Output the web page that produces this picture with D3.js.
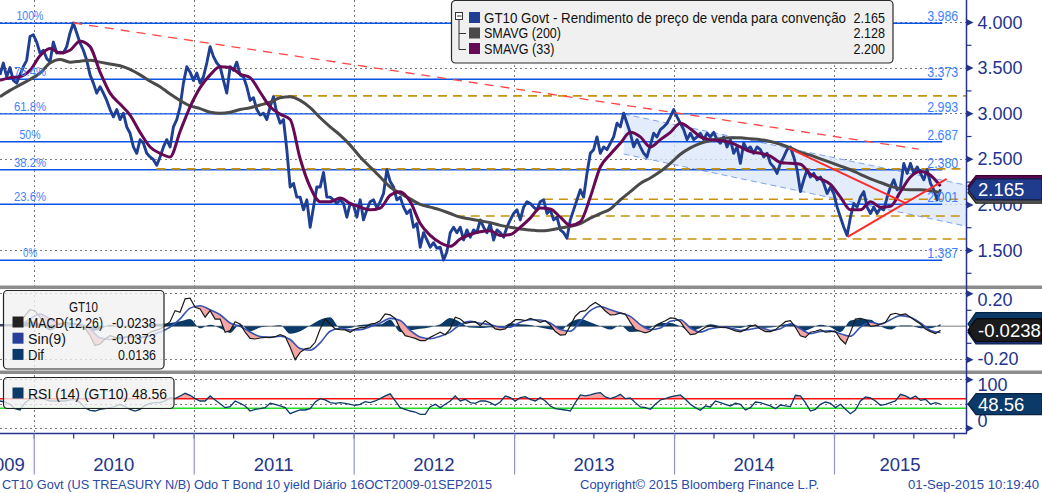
<!DOCTYPE html>
<html><head><meta charset="utf-8">
<script src="https://cdn.jsdelivr.net/npm/d3@7"></script>
<style>
body{margin:0;background:#fff}
svg{display:block}
text{font-family:"Liberation Sans",Arial,sans-serif}
</style></head>
<body><svg id="c" width="1042" height="493"></svg>
<script>
// ---------------- DATA ----------------
const startDate = "2009-10-16", endDate = "2015-09-01";
const price = [
3.42,3.55,3.40,3.50,3.36,3.33,3.42,3.51,3.58,3.84,
3.86,3.78,3.66,3.69,3.60,3.56,3.78,3.66,3.67,3.66,
3.73,3.88,3.99,3.88,3.77,3.69,3.58,3.42,3.33,3.22,
3.29,3.22,3.14,3.04,2.96,3.04,2.93,3.00,2.85,2.78,
2.63,2.56,2.71,2.67,2.56,2.52,2.49,2.43,2.52,2.63,
2.71,2.63,2.85,2.93,3.07,3.33,3.51,3.45,3.36,3.44,
3.33,3.40,3.55,3.73,3.62,3.55,3.51,3.36,3.22,3.51,
3.47,3.56,3.42,3.40,3.29,3.14,3.17,3.04,2.98,3.00,
2.93,3.07,3.18,3.00,2.89,2.93,2.60,2.19,2.23,2.08,
2.08,1.94,2.05,1.75,1.97,2.19,2.19,2.35,2.08,2.08,
2.05,2.01,2.05,2.01,1.86,2.01,1.99,1.86,2.05,1.83,
1.94,2.03,2.05,1.96,2.03,2.12,2.38,2.25,2.19,2.05,
2.08,1.97,1.90,1.94,1.75,1.79,1.53,1.69,1.61,1.53,
1.58,1.52,1.53,1.39,1.48,1.69,1.75,1.69,1.75,1.61,
1.72,1.64,1.72,1.69,1.83,1.75,1.69,1.79,1.61,1.72,
1.69,1.64,1.75,1.83,1.90,1.94,1.83,1.97,2.03,2.01,
1.97,1.94,2.03,2.05,1.90,1.94,1.83,1.86,1.72,1.69,
1.63,1.83,1.94,2.05,2.16,2.08,2.34,2.56,2.60,2.74,
2.56,2.63,2.60,2.67,2.74,2.89,2.85,3.00,2.89,2.78,
2.63,2.71,2.63,2.56,2.52,2.65,2.78,2.74,2.82,2.85,
2.89,2.96,3.04,2.96,2.89,2.82,2.71,2.78,2.71,2.74,
2.78,2.71,2.78,2.74,2.79,2.71,2.67,2.74,2.63,2.71,
2.56,2.63,2.45,2.67,2.60,2.63,2.56,2.63,2.60,2.52,
2.56,2.45,2.41,2.34,2.45,2.52,2.60,2.63,2.52,2.38,
2.14,2.27,2.38,2.30,2.34,2.27,2.30,2.23,2.12,2.19,
2.12,1.97,1.86,1.75,1.66,1.86,2.01,1.97,2.08,2.14,
1.97,1.90,1.97,1.90,1.96,1.94,2.08,2.19,2.27,2.16,
2.19,2.45,2.34,2.45,2.34,2.41,2.34,2.27,2.38,2.23,
2.16,2.05,2.165];
const sma200 = [
3.18,3.25,3.31,3.37,3.44,3.55,3.59,3.56,3.57,3.58,
3.56,3.54,3.52,3.48,3.42,3.35,3.29,3.21,3.14,3.08,
3.05,3.01,3.00,3.01,3.04,3.06,3.09,3.12,3.17,3.18,
3.14,3.06,2.95,2.85,2.76,2.65,2.52,2.41,2.30,2.19,
2.12,2.06,2.00,1.97,1.94,1.90,1.86,1.84,1.82,1.80,
1.77,1.75,1.73,1.72,1.71,1.72,1.74,1.76,1.79,1.85,
1.90,1.95,2.05,2.14,2.23,2.29,2.36,2.45,2.55,2.62,
2.67,2.70,2.72,2.73,2.73,2.72,2.71,2.69,2.66,2.62,
2.57,2.54,2.50,2.46,2.42,2.38,2.33,2.28,2.24,2.20,
2.17,2.16,2.16,2.15,2.128];
const sma33 = [
3.36,3.39,3.40,3.47,3.63,3.71,3.66,3.69,3.79,3.73,
3.45,3.22,3.10,2.98,2.79,2.63,2.56,2.52,2.80,3.07,
3.28,3.42,3.51,3.50,3.43,3.39,3.23,3.07,2.99,2.93,
2.50,2.19,2.03,2.03,2.07,2.01,1.97,1.94,1.96,2.10,
2.14,2.03,1.79,1.66,1.58,1.54,1.62,1.67,1.70,1.71,
1.66,1.67,1.75,1.85,1.96,1.95,1.86,1.77,1.81,2.08,
2.41,2.55,2.67,2.79,2.74,2.63,2.71,2.79,2.89,2.83,
2.74,2.71,2.70,2.68,2.63,2.58,2.56,2.53,2.46,2.45,
2.44,2.33,2.28,2.22,2.08,1.94,1.94,2.03,1.97,1.98,
2.14,2.30,2.36,2.32,2.20];
const macd = [
0.008,0.008,0.008,0.014,0.024,0.065,0.101,0.093,0.055,0.004,
0.004,0.008,0.014,0.024,0.020,0.014,0.004,-0.012,-0.057,-0.117,
-0.107,-0.077,-0.057,-0.067,-0.077,-0.067,-0.057,-0.067,-0.077,-0.057,
-0.036,-0.026,-0.016,0.004,0.028,0.095,0.085,0.166,0.170,0.115,
0.105,0.055,0.095,0.044,0.044,-0.036,-0.026,0.028,0.014,-0.036,
-0.073,-0.077,-0.071,-0.067,-0.067,-0.063,-0.051,-0.061,-0.127,-0.202,
-0.158,-0.137,-0.131,-0.097,-0.016,0.044,0.014,-0.016,-0.020,-0.022,
-0.036,-0.016,-0.008,-0.006,0.014,0.018,0.034,0.075,0.069,0.048,
-0.016,-0.057,-0.065,-0.073,-0.087,-0.087,-0.067,-0.051,-0.036,-0.051,
-0.016,0.055,0.044,0.018,0.024,0.028,0.004,0.034,0.014,-0.016,
-0.022,-0.016,0.014,0.040,0.040,0.034,0.048,0.038,0.024,0.034,
0.008,-0.032,-0.053,-0.051,0.004,0.061,0.089,0.095,0.125,0.145,
0.125,0.093,0.069,0.071,0.081,0.075,0.024,-0.020,-0.030,-0.040,
-0.030,0.000,0.020,0.034,0.051,0.048,0.028,-0.016,-0.051,-0.046,
-0.026,-0.006,0.002,-0.002,-0.006,-0.006,-0.016,-0.028,-0.034,-0.020,
0.000,0.008,-0.016,-0.032,-0.032,-0.020,0.004,0.028,0.034,-0.006,
-0.057,-0.067,-0.036,-0.030,-0.020,-0.036,-0.032,-0.030,-0.077,-0.107,
-0.036,0.044,0.048,0.040,0.000,0.004,0.014,0.024,0.071,0.079,
0.069,0.075,0.055,0.034,0.014,-0.016,-0.032,-0.044,-0.0238];
const signal = [
0.008,0.008,0.012,0.045,0.075,0.045,0.015,0.012,0.012,-0.015,
-0.070,-0.080,-0.068,-0.065,-0.068,-0.058,-0.035,-0.005,0.045,0.110,
0.125,0.100,0.070,0.020,0.000,-0.035,-0.062,-0.067,-0.060,-0.080,
-0.135,-0.145,-0.100,-0.030,-0.012,-0.022,-0.020,-0.002,0.020,0.048,
0.035,-0.025,-0.065,-0.075,-0.060,-0.035,0.010,0.030,0.018,0.010,
-0.005,-0.005,0.025,0.040,0.038,0.020,-0.020,-0.030,0.030,0.095,
0.120,0.100,0.080,0.060,0.010,-0.020,-0.010,0.030,0.040,-0.010,
-0.035,-0.015,-0.005,-0.010,-0.025,-0.018,-0.008,-0.025,-0.015,0.015,
-0.015,-0.045,-0.032,-0.028,-0.045,-0.060,-0.005,0.025,0.012,0.040,
0.065,0.055,0.020,-0.025,-0.0373];
const dif = [
0.000,0.000,0.010,0.030,0.015,-0.025,0.004,0.003,-0.008,-0.030,
-0.020,0.010,-0.005,0.008,-0.005,0.012,0.015,0.020,0.030,0.045,
-0.012,0.010,-0.012,-0.040,0.012,-0.030,-0.008,0.000,0.007,-0.045,
-0.030,0.005,0.040,0.055,-0.012,-0.010,0.008,0.012,0.012,0.040,
-0.035,-0.025,-0.015,-0.005,0.012,0.050,0.025,-0.008,-0.010,-0.005,
-0.012,0.018,0.012,0.008,-0.008,-0.020,-0.025,0.025,0.045,0.025,
0.000,-0.020,0.005,-0.035,-0.030,-0.010,0.020,0.020,0.000,-0.030,
-0.010,0.012,0.000,-0.006,-0.010,0.010,-0.010,-0.008,0.005,0.015,
-0.035,-0.015,0.010,-0.005,-0.035,0.035,0.045,0.040,0.000,-0.020,
0.005,0.005,-0.012,-0.012,0.0136];
const rsi = [
55.2,53.1,48.3,39.3,36.6,51.8,58.7,60.0,61.4,58.7,
55.2,55.2,55.2,55.2,57.3,58.7,51.8,41.4,35.9,34.5,
38.0,39.3,41.4,43.5,48.3,43.5,38.0,34.5,38.0,46.2,
50.4,51.8,51.8,55.2,62.1,60.0,65.6,71.1,66.9,60.0,
55.2,55.2,65.6,57.3,49.7,41.4,43.5,55.2,50.4,44.9,
34.5,38.0,39.3,41.4,50.4,48.3,44.9,41.4,29.0,33.1,
36.6,36.6,39.3,53.1,60.0,57.3,51.8,50.4,51.8,50.4,
48.3,46.2,48.3,53.8,51.8,55.2,60.0,65.6,70.0,55.2,
41.4,38.0,34.5,32.4,27.6,27.6,43.5,48.3,41.4,48.3,
55.2,65.6,55.2,58.7,51.8,50.4,55.2,55.2,51.8,46.2,
53.1,65.6,62.1,55.2,62.1,64.2,58.7,55.2,62.1,55.2,
44.9,39.3,38.0,36.6,34.5,51.8,67.6,65.6,67.6,71.1,
72.5,63.5,60.0,63.5,69.0,60.0,61.4,51.8,42.8,41.4,
38.0,48.3,57.3,60.0,63.5,65.6,67.6,58.7,48.3,41.4,
35.9,44.9,42.8,55.2,51.8,48.3,44.9,50.4,48.3,36.6,
41.4,53.1,51.8,48.3,44.9,39.3,46.9,44.9,43.5,66.9,
65.6,51.8,34.5,38.0,48.3,53.1,50.4,41.4,48.3,38.0,
29.0,36.6,55.2,63.5,61.4,55.2,46.2,48.3,51.8,55.2,
69.0,65.6,60.0,65.6,56.6,58.7,48.3,51.8,48.56];

const yTicks = [1.5,2.0,2.5,3.0,3.5,4.0];
const yMinorTicks = [1.25,1.75,2.25,2.75,3.25,3.75];
const macdTicks = [-0.2,0.2];
const macdMinorTicks = [-0.1,0.1];
const rsiTicks = [0,100];
const rsiMinorTicks = [50];
const rsiLevels = [60,40];
const years = [2009,2010,2011,2012,2013,2014,2015];

const fibLevels = [3.986,3.373,2.993,2.687,2.380,2.001,1.387];
const fibPct = ["100%","76.4%","61.8%","50%","38.2%","23.6%","0%"];
const fibText = ["3.986","3.373","2.993","2.687","2.380","2.001","1.387"];
const fibEnd = "2015-09-05";

const levelStarts = ["2011-07-01","2010-10-08","2013-03-10","2012-08-21","2013-05-03"];
const levelValues = [3.19,2.39,2.056,1.873,1.621];

const trendDates = [["2010-04-01","2015-07-13"],["2014-09-20","2015-06-13"],["2015-02-01","2015-09-15"]];
const trendValues = [[3.99,2.607],[2.618,2.015],[1.643,2.279]];

const channelDates = ["2013-09-08","2015-10-28"];
const channelUpper = [2.991,2.213];
const channelLower = [2.553,1.763];

const legendNames = ["GT10 Govt - Rendimento de preço de venda para convenção","SMAVG (200)","SMAVG (33)"];
const legendValues = ["2.165","2.128","2.200"];
const macdNames = ["MACD(12,26)","Sin(9)","Dif"];
const macdValues = ["-0.0238","-0.0373","0.0136"];
const rsiLegend = "RSI (14) (GT10) 48.56";
const footerLeft = "CT10 Govt (US TREASURY N/B) Odo T Bond 10 yield  Diário 16OCT2009-01SEP2015";
const footerMid = "Copyright© 2015 Bloomberg Finance L.P.";
const footerRight = "01-Sep-2015 10:19:40";

// ---------------- DRAW ----------------
const svg = d3.select("#c");
const plotR = 966;
const parse = d3.timeParse("%Y-%m-%d");
const t0 = parse(startDate), t1 = parse(endDate);
const x = d3.scaleTime().domain([t0,t1]).range([0,940.5]);
const spread = n => d3.range(n).map(i => new Date(+t0 + i*(t1-t0)/(n-1)));
const yM = d3.scaleLinear().domain([1.5,4]).range([250,22]);
const yD = d3.scaleLinear().domain([-0.2,0.2]).range([359.3,293.3]);
const yR = d3.scaleLinear().domain([0,100]).range([427.7,379.3]);

const fit = (sel,w)=>sel.attr("textLength",w).attr("lengthAdjust","spacingAndGlyphs");

const P = {main:[0,285.5], macd:[289,370.5], rsi:[374,433]};
const defs = svg.append("defs");
Object.entries(P).forEach(([k,[a,b]])=>{
  defs.append("clipPath").attr("id","clip-"+k).append("rect").attr("x",0).attr("y",a).attr("width",plotR).attr("height",b-a);
});

const NAVY = "#22348c";
const yearStarts = years.slice(1).map(y=>new Date(y,0,1));

// gridlines
const grid = svg.append("g").attr("stroke","#7a7a7a").attr("stroke-width",1).attr("stroke-dasharray","2,3");
yearStarts.forEach(d=>grid.append("line").attr("x1",Math.round(x(d))+0.5).attr("x2",Math.round(x(d))+0.5).attr("y1",0).attr("y2",433));
yTicks.forEach(v=>grid.append("line").attr("x1",0).attr("x2",plotR).attr("y1",Math.round(yM(v))+0.5).attr("y2",Math.round(yM(v))+0.5));
macdTicks.forEach(v=>grid.append("line").attr("x1",0).attr("x2",plotR).attr("y1",Math.round(yD(v))+0.5).attr("y2",Math.round(yD(v))+0.5));
[0,50,100].forEach(v=>grid.append("line").attr("x1",0).attr("x2",plotR).attr("y1",Math.round(yR(v))+0.5).attr("y2",Math.round(yR(v))+0.5));

// ---------- main panel
const gm = svg.append("g").attr("clip-path","url(#clip-main)");
const cd = channelDates.map(parse);
const chArea = d3.area().x((d,i)=>x(cd[i])).y0((d,i)=>yM(channelLower[i])).y1(d=>yM(d));
gm.append("path").datum(channelUpper).attr("d",chArea).attr("fill","#dbe7fa").attr("opacity",0.8);
[channelUpper,channelLower].forEach(arr=>{
  gm.append("line").attr("x1",x(cd[0])).attr("x2",x(cd[1])).attr("y1",yM(arr[0])).attr("y2",yM(arr[1]))
    .attr("stroke","#7ea4ea").attr("stroke-width",1).attr("stroke-dasharray","6,4");
});

const fe = parse(fibEnd);
fibLevels.forEach(v=>{
  gm.append("line").attr("x1",0).attr("x2",x(fe)).attr("y1",yM(v)).attr("y2",yM(v)).attr("stroke","#0a55e6").attr("stroke-width",1.4);
});
levelStarts.forEach((s,i)=>{
  gm.append("line").attr("x1",x(parse(s))).attr("x2",plotR).attr("y1",yM(levelValues[i])).attr("y2",yM(levelValues[i]))
    .attr("stroke","#c8920c").attr("stroke-width",1.6).attr("stroke-dasharray","9,6");
});

const pDates = spread(price.length);
const line = (dates,yS)=>d3.line().x((d,i)=>x(dates[i])).y(d=>yS(d));
gm.append("path").datum(price).attr("d",line(pDates,yM)).attr("fill","none").attr("stroke","#1f3f94").attr("stroke-width",2.9).attr("stroke-linejoin","round");
const sDates = spread(sma200.length);
gm.append("path").datum(sma200).attr("d",line(sDates,yM).curve(d3.curveMonotoneX)).attr("fill","none").attr("stroke","#4a4a4a").attr("stroke-width",3);
const s33Dates = spread(sma33.length);
gm.append("path").datum(sma33).attr("d",line(s33Dates,yM).curve(d3.curveMonotoneX)).attr("fill","none").attr("stroke","#660a55").attr("stroke-width",3);

trendDates.forEach((td,i)=>{
  const l = gm.append("line").attr("x1",x(parse(td[0]))).attr("x2",x(parse(td[1])))
    .attr("y1",yM(trendValues[i][0])).attr("y2",yM(trendValues[i][1])).attr("stroke","#ff2a2a");
  if(i===0) l.attr("stroke-width",1.3).attr("stroke-dasharray","9,7").attr("stroke","#ff4545");
  else l.attr("stroke-width",2);
});

const pctW = [27,32,32,21,32,32,14];
fibLevels.forEach((v,i)=>{
  fit(gm.append("text").attr("x",30).attr("y",yM(v)-3).attr("text-anchor","middle").attr("font-size",13.5).attr("fill","#3d84ff").text(fibPct[i]), pctW[i]);
  fit(gm.append("text").attr("x",x(fe)+16).attr("y",yM(v)-2).attr("text-anchor","end").attr("font-size",14).attr("fill","#3d84ff").text(fibText[i]), 31);
});

// legend main
const lg = svg.append("g");
lg.append("rect").attr("x",451.5).attr("y",0.5).attr("width",441.5).attr("height",62.5).attr("rx",4).attr("fill","#f0f0f0").attr("stroke","#2a2a2a").attr("stroke-width",1.2);
lg.append("rect").attr("x",455.5).attr("y",12.5).attr("width",7).attr("height",7).attr("fill","#fff").attr("stroke","#333");
lg.append("line").attr("x1",457).attr("x2",461.5).attr("y1",16).attr("y2",16).attr("stroke","#333");
lg.append("path").attr("d","M459,19.5V49.5H466M459,33.5H466").attr("fill","none").attr("stroke","#333");
const lgColors = ["#1f3f94","#4a4a4a","#660a55"];
const lgW = [362,77,70.5];
legendNames.forEach((n,i)=>{
  const by = 22.5 + i*15.5;
  lg.append("rect").attr("x",469).attr("y",by-10.5).attr("width",11).attr("height",11).attr("fill",lgColors[i]);
  fit(lg.append("text").attr("x",484).attr("y",by).attr("font-size",14.5).attr("fill","#111").text(n), lgW[i]);
  fit(lg.append("text").attr("x",885).attr("y",by).attr("text-anchor","end").attr("font-size",14.5).attr("fill","#111").text(legendValues[i]), 31.5);
});

// ---------- MACD panel
const gd = svg.append("g").attr("clip-path","url(#clip-macd)");
gd.append("line").attr("x1",0).attr("x2",plotR).attr("y1",yD(0)).attr("y2",yD(0)).attr("stroke","#a9a9a9").attr("stroke-width",1.5);
const dDates = spread(dif.length);
gd.append("path").datum(dif).attr("d",d3.area().x((d,i)=>x(dDates[i])).y0(yD(0)).y1(d=>yD(d)).curve(d3.curveMonotoneX)).attr("fill","#0b3a68");
const mDates = spread(macd.length), sgDates = spread(signal.length);
defs.append("clipPath").attr("id","clip-above-macd").append("path").datum(macd)
  .attr("d",d3.area().x((d,i)=>x(mDates[i])).y0(P.macd[0]).y1(d=>yD(d)));
gd.append("path").datum(signal).attr("clip-path","url(#clip-above-macd)")
  .attr("d",d3.area().x((d,i)=>x(sgDates[i])).y0(P.macd[1]).y1(d=>yD(d)).curve(d3.curveMonotoneX)).attr("fill","#f4a5a5");
gd.append("path").datum(signal).attr("d",line(sgDates,yD).curve(d3.curveMonotoneX)).attr("fill","none").attr("stroke","#3552b0").attr("stroke-width",1.6);
gd.append("path").datum(macd).attr("d",line(mDates,yD)).attr("fill","none").attr("stroke","#1a1a1a").attr("stroke-width",1.2);

// ---------- RSI panel
const gr = svg.append("g").attr("clip-path","url(#clip-rsi)");
const rDates = spread(rsi.length);
defs.append("clipPath").attr("id","clip-rsi-hi").append("rect").attr("x",0).attr("y",P.rsi[0]).attr("width",plotR).attr("height",yR(rsiLevels[0])-P.rsi[0]);
gr.append("path").datum(rsi).attr("clip-path","url(#clip-rsi-hi)")
  .attr("d",d3.area().x((d,i)=>x(rDates[i])).y0(yR(rsiLevels[0])).y1(d=>yR(d))).attr("fill","#f4a5a5");
gr.append("line").attr("x1",0).attr("x2",plotR).attr("y1",yR(rsiLevels[0])).attr("y2",yR(rsiLevels[0])).attr("stroke","#ff1010").attr("stroke-width",1.5);
gr.append("line").attr("x1",0).attr("x2",plotR).attr("y1",yR(rsiLevels[1])).attr("y2",yR(rsiLevels[1])).attr("stroke","#22dd22").attr("stroke-width",1.5);
gr.append("path").datum(rsi).attr("d",line(rDates,yR)).attr("fill","none").attr("stroke","#0b3a68").attr("stroke-width",1.3);

// legends MACD / RSI
const lg2 = svg.append("g");
lg2.append("rect").attr("x",3.5).attr("y",290.5).attr("width",160.5).attr("height",78.5).attr("rx",4).attr("fill","rgba(241,241,241,0.78)").attr("stroke","#222").attr("stroke-width",1.2);
fit(lg2.append("text").attr("x",69).attr("y",311.5).attr("font-size",14.5).attr("fill","#111").text("GT10"), 29);
const mdColors = ["#222222","#26409a","#0b3a68"];
const mdW = [75,38,16], mdVW = [44,44,38];
macdNames.forEach((n,i)=>{
  const by = 327.5 + i*16.2;
  lg2.append("rect").attr("x",12.5).attr("y",by-11).attr("width",11).attr("height",11).attr("fill",mdColors[i]);
  fit(lg2.append("text").attr("x",28).attr("y",by).attr("font-size",14.5).attr("fill","#111").text(n), mdW[i]);
  fit(lg2.append("text").attr("x",156).attr("y",by).attr("text-anchor","end").attr("font-size",14.5).attr("fill","#111").text(macdValues[i]), mdVW[i]);
});
lg2.append("rect").attr("x",3.5).attr("y",377.5).attr("width",170.5).attr("height",31).attr("rx",4).attr("fill","rgba(241,241,241,0.78)").attr("stroke","#222").attr("stroke-width",1.2);
lg2.append("rect").attr("x",12.5).attr("y",387.5).attr("width",11).attr("height",11).attr("fill","#0b3a68");
fit(lg2.append("text").attr("x",28).attr("y",398.5).attr("font-size",14.5).attr("fill","#111").text(rsiLegend), 139);

// ---------- separators
svg.append("rect").attr("x",0).attr("y",285.5).attr("width",1042).attr("height",3.5).attr("fill","#8c8c8c");
svg.append("rect").attr("x",0).attr("y",370.5).attr("width",1042).attr("height",3.5).attr("fill","#8c8c8c");

// ---------- right axes
svg.append("line").attr("x1",plotR+0.5).attr("x2",plotR+0.5).attr("y1",0).attr("y2",433.5).attr("stroke",NAVY).attr("stroke-width",1.5);
function rightAxis(scale, major, minor, fmt, dys){
  const g = svg.append("g").attr("transform",`translate(${plotR+0.5},0)`)
    .call(d3.axisRight(scale).tickValues(major).tickFormat(fmt).tickSize(0).tickPadding(11));
  g.select(".domain").remove();
  g.selectAll(".tick text").attr("font-size",18).attr("fill",NAVY).attr("font-family","Liberation Sans, Arial, sans-serif")
    .attr("dy",(d,i)=>dys? dys[i] : "0.34em");
  g.selectAll(".tick").append("path").attr("d","M0,-3.5L7,0L0,3.5Z").attr("fill",NAVY);
  const gmn = svg.append("g").attr("transform",`translate(${plotR+0.5},0)`)
    .call(d3.axisRight(scale).tickValues(minor).tickFormat("").tickSize(5));
  gmn.select(".domain").remove();
  gmn.selectAll(".tick line").attr("stroke",NAVY).attr("stroke-width",1.2);
}
rightAxis(yM, yTicks, yMinorTicks, d3.format(".3f"));
rightAxis(yD, macdTicks, macdMinorTicks, d => d3.format(".2f")(d).replace("−","-"), ["0.3em","0.7em"]);
rightAxis(yR, rsiTicks, rsiMinorTicks, d3.format("d"), ["-0.05em","0.62em"]);

// value tags (stacked like the reference; hidden ones carry no text)
function tag(yc, h, fill, stroke, txt){
  const g = svg.append("g");
  g.append("path").attr("d",`M968,${yc}L976,${yc-h/2}H1042V${yc+h/2}H976Z`).attr("fill",fill).attr("stroke",stroke).attr("stroke-width",1.2);
  if(txt) g.append("text").attr("x",978).attr("y",yc+6.5).attr("font-size",18.5).attr("fill","#fff").text(txt);
}
tag(yM(2.128),21,"#555","#222");
tag(yM(2.200),21,"#5d0a52","#3a0030");
tag(yM(2.165),21,"#1f3c8c","#101a40","2.165");
tag(yD(0.0136),23,"#0b3a68","#08233f");
tag(yD(-0.0373),23,"#26409a","#10204a");
tag(yD(-0.0238),23,"#1b1b1b","#000","-0.0238");
tag(yR(48.56),21,"#0b3a68","#08233f","48.56");

// ---------- bottom axis
svg.append("line").attr("x1",0).attr("x2",plotR+1).attr("y1",433.5).attr("y2",433.5).attr("stroke",NAVY).attr("stroke-width",1.5);
const qTicks = d3.timeMonth.every(3).range(t0, parse("2015-11-01"));
const gq = svg.append("g").attr("transform","translate(0,433.5)").call(d3.axisBottom(x).tickValues(qTicks).tickFormat("").tickSize(5));
gq.select(".domain").remove();
gq.selectAll(".tick line").attr("stroke",NAVY).attr("stroke-width",1.2);
const gy = svg.append("g").attr("transform","translate(0,433.5)").call(d3.axisBottom(x).tickValues(yearStarts).tickFormat("").tickSize(41));
gy.select(".domain").remove();
gy.selectAll(".tick line").attr("stroke","#8c97c8").attr("stroke-width",1.2);
years.forEach(yv=>{
  const a = Math.max(0, x(new Date(yv,0,1))), b = Math.min(plotR, x(new Date(yv+1,0,1)));
  const t = svg.append("text").attr("y",471).attr("font-size",18.5).attr("fill","#24348a").text(String(yv));
  if(yv===years[0]) t.attr("x",b-9).attr("text-anchor","end");
  else t.attr("x",(a+b)/2).attr("text-anchor","middle");
});

// footer
fit(svg.append("text").attr("x",2).attr("y",489).attr("font-size",13.5).attr("fill","#2a4aa8").text(footerLeft), 490);
fit(svg.append("text").attr("x",580).attr("y",489).attr("font-size",13.5).attr("fill","#2a4aa8").text(footerMid), 239);
fit(svg.append("text").attr("x",908).attr("y",489).attr("font-size",13.5).attr("fill","#2a4aa8").text(footerRight), 131);
</script>
</body></html>
